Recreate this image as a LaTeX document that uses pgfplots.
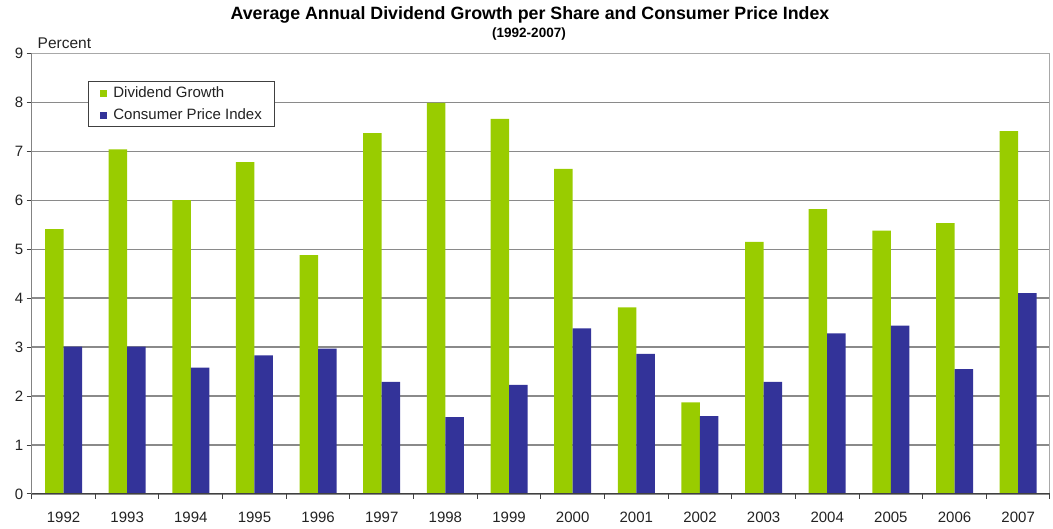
\documentclass[border=0pt]{standalone}
\usepackage{pgfplots}
\pgfplotsset{compat=1.18}
\usepackage{fontspec}
\setmainfont{Liberation Sans}
\definecolor{divgreen}{HTML}{99CC00}
\definecolor{cpiblue}{HTML}{333399}
\definecolor{gridgray}{HTML}{8A8A8A}
\definecolor{framegray}{HTML}{A8A8A8}
\definecolor{axisdark}{HTML}{404040}
\definecolor{labelcol}{HTML}{222222}
\begin{document}
\begin{tikzpicture}[x=1pt,y=1pt]
\useasboundingbox (0,0) rectangle (1053,529);
\node[font=\bfseries\fontsize{17.8}{19}\selectfont] at (530,514.5) {Average Annual Dividend Growth per Share and Consumer Price Index};
\node[font=\bfseries\fontsize{13.5}{15}\selectfont] at (529,495) {(1992-2007)};
\node[anchor=west, font=\fontsize{15.5}{17}\selectfont, text=labelcol, inner sep=0pt] at (37.5,485.5) {Percent};
\begin{axis}[
  at={(31.7pt,35pt)}, anchor=south west, scale only axis,
  width=1018.3pt, height=440.7pt,
  xmin=-0.5, xmax=15.5, ymin=0, ymax=9,
  ybar, bar width=18.5pt,
  xtick={0,...,15},
  xticklabels={1992,1993,1994,1995,1996,1997,1998,1999,2000,2001,2002,2003,2004,2005,2006,2007},
  minor xtick={-0.5,0.5,...,15.5},
  ytick={0,...,9},
  xtick pos=bottom, ytick pos=left,
  tick align=outside,
  major tick length=5pt, minor tick length=5pt,
  major x tick style={draw=none},
  minor x tick style={draw=axisdark, line width=1pt},
  ytick style={draw=axisdark, line width=1pt},
  ymajorgrids,
  major grid style={gridgray, line width=1.3pt},
  axis line style={framegray, line width=1pt},
  tick label style={font=\fontsize{15}{17}\selectfont, text=labelcol},
  xticklabel style={yshift=-9pt},
  /pgf/number format/assume math mode=true,
  legend style={at={(0.0553,0.937)}, anchor=north west, draw=axisdark, line width=0.8pt,
    fill=white, font=\fontsize{15}{17}\selectfont, text=labelcol,
    inner xsep=11pt, inner ysep=3.5pt, row sep=5.5pt,
    legend cell align=left},
  legend image code/.code={\fill[#1] (1pt,-3.5pt) rectangle (8pt,3.5pt); \path (0pt,0pt) (12pt,0pt);},
]
\addplot[fill=divgreen, draw=none, bar shift=-9.25pt] coordinates {
(0,5.41) (1,7.04) (2,6.00) (3,6.78) (4,4.88) (5,7.37) (6,7.99) (7,7.66)
(8,6.64) (9,3.81) (10,1.87) (11,5.15) (12,5.82) (13,5.38) (14,5.53) (15,7.41)};
\addplot[fill=cpiblue, draw=none, bar shift=9.25pt] coordinates {
(0,3.01) (1,3.01) (2,2.58) (3,2.83) (4,2.97) (5,2.29) (6,1.57) (7,2.23)
(8,3.38) (9,2.86) (10,1.59) (11,2.29) (12,3.28) (13,3.44) (14,2.55) (15,4.10)};
\legend{Dividend Growth, Consumer Price Index}
\draw[axisdark, line width=1.5pt] (rel axis cs:0,1) -- (rel axis cs:0,0) -- (rel axis cs:1,0);
\end{axis}
\end{tikzpicture}
\end{document}
